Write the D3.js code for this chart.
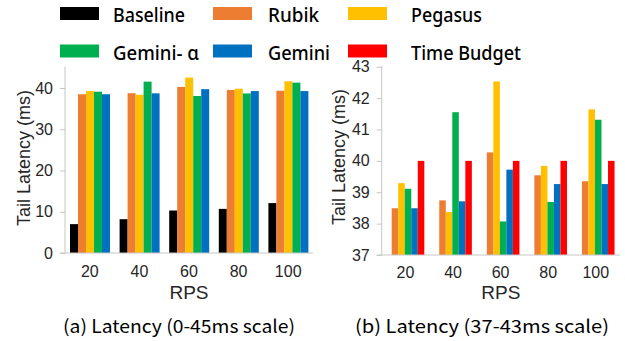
<!DOCTYPE html>
<html>
<head>
<meta charset="utf-8">
<script src="https://cdn.jsdelivr.net/npm/d3@7"></script>
<style>
  body { margin: 0; background: #fff; }
  svg { display: block; }
</style>
</head>
<body>
<svg></svg>
<script>
const rps = ["20", "40", "60", "80", "100"];
const seriesNames = ["Baseline", "Rubik", "Pegasus", "Gemini- \u03b1", "Gemini", "Time Budget"];
const seriesColors = ["#000000", "#ed7d31", "#ffc000", "#00b050", "#0070c0", "#ff0000"];

const baseline = [7.0, 8.2, 10.3, 10.7, 12.1];
const rubik = [38.49, 38.74, 40.27, 39.54, 39.35];
const pegasus = [39.29, 38.37, 42.53, 39.84, 41.64];
const geminiAlpha = [39.11, 41.55, 38.07, 38.69, 41.31];
const gemini = [38.49, 38.71, 39.72, 39.26, 39.26];
const timeBudget = [40, 40, 40, 40, 40];

const leftTicks = [0, 10, 20, 30, 40];
const rightTicks = [37, 38, 39, 40, 41, 42, 43];
const captions = ["(a) Latency (0-45ms scale)", "(b) Latency (37-43ms scale)"];

const width = 625;
const height = 341;
const axisColor = "#c6c6c6";
const arial = "'Liberation Sans', Arial, sans-serif";
const capFont = "'Noto Sans CJK KR', 'Noto Sans', sans-serif";

const allSeries = [baseline, rubik, pegasus, geminiAlpha, gemini, timeBudget];

const svg = d3.select("svg").attr("width", width).attr("height", height);

// one panel = one clustered bar chart
let drawPanel = (cfg) => {
  let g = svg.append("g");

  let x = d3.scaleBand().domain(rps).range([cfg.left, cfg.right]);
  let inner = d3
    .scaleBand()
    .domain(cfg.series)
    .range([cfg.offset, cfg.offset + cfg.groupWidth]);
  let y = d3.scaleLinear().domain(cfg.domain).range([cfg.bottom, cfg.top]);

  let rows = [];
  rps.forEach((r, i) => {
    cfg.series.forEach((s) => {
      rows.push({ rps: r, s: s, v: allSeries[s][i] });
    });
  });

  g.selectAll("rect")
    .data(rows)
    .enter()
    .append("rect")
    .attr("x", (d) => x(d.rps) + inner(d.s))
    .attr("width", inner.bandwidth())
    .attr("y", (d) => y(d.v))
    .attr("height", (d) => y(cfg.domain[0]) - y(d.v))
    .attr("fill", (d) => seriesColors[d.s]);

  let yAxis = d3
    .axisLeft(y)
    .tickValues(cfg.ticks)
    .tickFormat(d3.format("d"))
    .tickSize(5)
    .tickPadding(7);
  let ya = g
    .append("g")
    .attr("transform", "translate(" + cfg.left + ",0)")
    .call(yAxis);
  ya.select(".domain").attr("stroke", axisColor).attr("d", "M0," + cfg.bottom + "V" + (cfg.top - 0.7));
  ya.selectAll(".tick line").attr("stroke", axisColor);
  ya.selectAll(".tick text")
    .attr("font-family", arial)
    .attr("font-size", 16)
    .attr("fill", "#262626");

  let xAxis = d3.axisBottom(x).tickSize(0).tickPadding(cfg.xPad);
  let xa = g
    .append("g")
    .attr("transform", "translate(0," + cfg.bottom + ")")
    .call(xAxis);
  xa.select(".domain").attr("stroke", axisColor).attr("d", "M" + (cfg.left - 5) + ",0H" + cfg.axisEnd);
  xa.selectAll(".tick text")
    .attr("font-family", arial)
    .attr("font-size", 16)
    .attr("fill", "#262626");

  g.append("text")
    .attr("transform", "translate(" + cfg.titleX + "," + cfg.titleY + ") rotate(-90)")
    .attr("text-anchor", "middle")
    .attr("dominant-baseline", "central")
    .attr("font-family", arial)
    .attr("font-size", 18)
    .attr("fill", "#262626")
    .text("Tail Latency (ms)");

  g.append("text")
    .attr("x", (cfg.left + cfg.axisEnd) / 2)
    .attr("y", 298.5)
    .attr("text-anchor", "middle")
    .attr("font-family", arial)
    .attr("font-size", 19)
    .attr("fill", "#262626")
    .text("RPS");

  g.append("text")
    .attr("x", cfg.capX)
    .attr("y", 333)
    .attr("text-anchor", "middle")
    .attr("textLength", cfg.capW)
    .attr("lengthAdjust", "spacingAndGlyphs")
    .attr("font-family", capFont)
    .attr("font-size", 18)
    .attr("fill", "#000")
    .text(cfg.caption);
};

drawPanel({
  series: [0, 1, 2, 3, 4],
  domain: [0, 45],
  ticks: leftTicks,
  left: 65,
  right: 313,
  axisEnd: 313,
  top: 67.4,
  bottom: 253,
  offset: 5,
  groupWidth: 40,
  xPad: 13,
  titleX: 24,
  titleY: 158,
  capX: 179,
  capW: 232,
  caption: captions[0],
});

drawPanel({
  series: [1, 2, 3, 4, 5],
  domain: [37, 43],
  ticks: rightTicks,
  left: 381.7,
  right: 619.5,
  axisEnd: 620,
  top: 66.7,
  bottom: 255,
  offset: 10,
  groupWidth: 32.6,
  xPad: 12,
  titleX: 339,
  titleY: 157,
  capX: 482,
  capW: 254,
  caption: captions[1],
});

// legend, two rows of three
const legendCols = [60, 213, 348];
const legendTextX = [113, 268, 411];
const legendWidths = [72, 51, 71, 86, 62, 110];

let legend = svg
  .append("g")
  .selectAll("g")
  .data(seriesNames)
  .enter()
  .append("g")
  .attr("transform", (d, i) => "translate(0," + (i < 3 ? 13.5 : 51) + ")");

legend
  .append("rect")
  .attr("x", (d, i) => legendCols[i % 3])
  .attr("y", -6.5)
  .attr("width", 39)
  .attr("height", 13)
  .attr("fill", (d, i) => seriesColors[i]);

legend
  .append("text")
  .attr("x", (d, i) => legendTextX[i % 3])
  .attr("y", 8.5)
  .attr("textLength", (d, i) => legendWidths[i])
  .attr("lengthAdjust", "spacingAndGlyphs")
  .attr("font-family", "'Noto Sans', sans-serif")
  .attr("font-size", 20.5)
  .attr("font-weight", 500)
  .attr("fill", "#000")
  .text((d) => d);
</script>
</body>
</html>
